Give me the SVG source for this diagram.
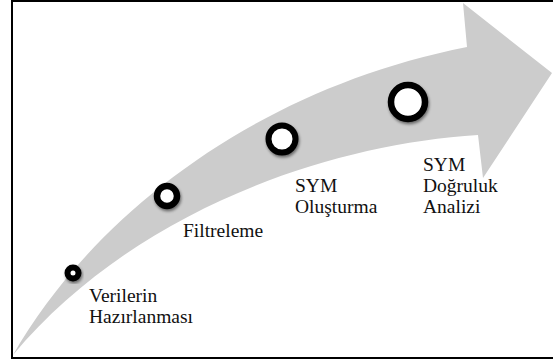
<svg xmlns="http://www.w3.org/2000/svg" width="553" height="361" viewBox="0 0 553 361">
<style>
text{font-family:'Liberation Serif','Times New Roman',Times,serif;font-size:19.5px;fill:#111}
.ring{fill:#fff;stroke:#000}
</style>
<defs>
<filter id="sh" x="-50%" y="-50%" width="200%" height="200%">
<feGaussianBlur in="SourceAlpha" stdDeviation="1.5"/>
<feOffset dx="1" dy="2" result="b"/>
<feComponentTransfer><feFuncA type="linear" slope="0.5"/></feComponentTransfer>
<feMerge><feMergeNode/><feMergeNode in="SourceGraphic"/></feMerge>
</filter>
</defs>
<rect x="0" y="0" width="553" height="361" fill="#fff"/>
<rect x="12" y="1" width="600" height="357" fill="none" stroke="#000" stroke-width="2"/>
<g id="arrow">
<path d="M13,355 C90,220 250,90 467,47 L463,3 L552,73 L483,178 L478,135 C320,145 130,215 13,355 Z" fill="#cccccc"/>
</g>
<g id="connectors"></g>
<g id="n1">
<circle class="ring" cx="73" cy="273" r="5.5" stroke-width="6" filter="url(#sh)"/>
<text x="89" y="302">Verilerin</text>
<text x="89" y="323">Hazırlanması</text>
</g>
<g id="n2">
<circle class="ring" cx="167" cy="196" r="10" stroke-width="6.5" filter="url(#sh)"/>
<text x="183" y="237">Filtreleme</text>
</g>
<g id="n3">
<circle class="ring" cx="282" cy="139" r="13.5" stroke-width="6" filter="url(#sh)"/>
<text x="295" y="192">SYM</text>
<text x="295" y="213">Oluşturma</text>
</g>
<g id="n4">
<circle class="ring" cx="408" cy="102" r="17" stroke-width="6.5" filter="url(#sh)"/>
<text x="423" y="171">SYM</text>
<text x="423" y="192">Doğruluk</text>
<text x="423" y="213">Analizi</text>
</g>
</svg>
